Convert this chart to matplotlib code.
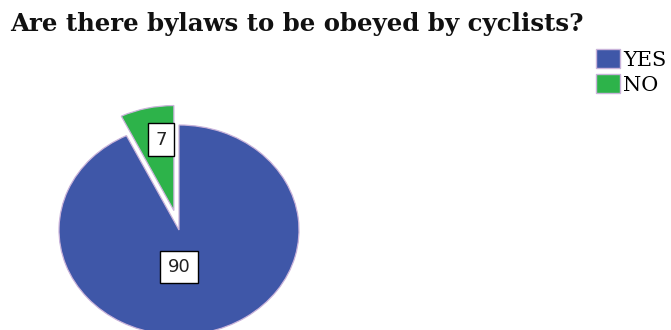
import matplotlib.pyplot as plt
from matplotlib.patches import Patch

# data
labels = ['YES', 'NO']
values = [90, 7]
colors = ['#3F57A8', '#2DB34A']
explode = [0, 0.19]
# label positions in pie units (relative to pie centre)
label_pos = [(0.0, -0.35), (-0.15, 0.86)]

W, H = 671, 330
fig = plt.figure(figsize=(W / 100, H / 100), dpi=100)

# pie is drawn as an ellipse: 120 px wide radius, 105 px tall radius
cx, cy = 179, H - 230
rx, ry = 120, 105
lim = 1.3
ax = fig.add_axes([(cx - lim * rx) / W, (cy - lim * ry) / H,
                   2 * lim * rx / W, 2 * lim * ry / H])

wedges, _ = ax.pie(values, colors=colors, explode=explode, startangle=90,
                   counterclock=False,
                   wedgeprops=dict(edgecolor='#C9B3DA', linewidth=0.9))
ax.set_aspect('auto')
ax.set_xlim(-lim, lim)
ax.set_ylim(-lim, lim)
ax.axis('off')

for v, (x, y) in zip(values, label_pos):
    ax.text(x, y, str(v), ha='center', va='center', fontsize=13,
            family='DejaVu Sans', color='#222222',
            bbox=dict(boxstyle='square,pad=0.4', facecolor='white',
                      edgecolor='black', linewidth=1))

fig.text(10 / W, 1 - 24 / H, 'Are there bylaws to be obeyed by cyclists?',
         ha='left', va='center', fontsize=17.6, fontweight='bold',
         family='DejaVu Serif', color='#111111')

handles = [Patch(facecolor=c, edgecolor='#C9B3DA', linewidth=1) for c in colors]
fig.legend(handles, labels, loc='upper left',
           bbox_to_anchor=(596 / W, 1 - 49 / H), frameon=False,
           prop=dict(family='DejaVu Serif', size=15),
           handlelength=1.15, handleheight=1.05, handletextpad=0.15,
           labelspacing=0.2, borderpad=0, borderaxespad=0)

fig.savefig('out.png', dpi=100)
